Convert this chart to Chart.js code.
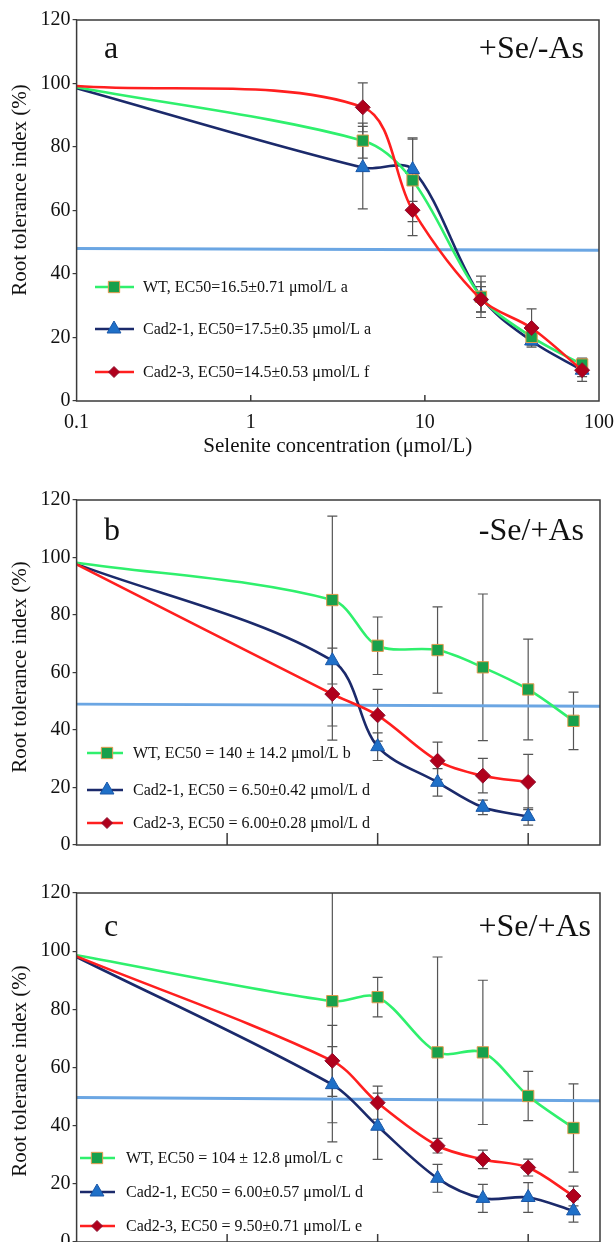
<!DOCTYPE html>
<html>
<head>
<meta charset="utf-8">
<script src="https://cdn.jsdelivr.net/npm/chart.js@4.4.1/dist/chart.umd.min.js"></script>
<style>
  html, body { margin: 0; padding: 0; background: #fff; width: 616px; height: 1242px; overflow: hidden; }
  .panel { position: absolute; left: 0; width: 616px; }
</style>
</head>
<body>
<div class="panel" style="top:0;height:470px"><canvas id="chartA"></canvas></div>
<div class="panel" style="top:470px;height:400px"><canvas id="chartB"></canvas></div>
<div class="panel" style="top:870px;height:386px"><canvas id="chartC"></canvas></div>
<script>
// concentrations (x)
var seConc = [0.1, 4.4, 8.5, 21, 41, 80];
var asConc = [1, 50, 100, 250, 500, 1000, 2000];
var seTicks = [0.1, 1, 10, 100];
var asTicks = [10, 100, 1000];
var yTicks = [0, 20, 40, 60, 80, 100, 120];

// panel a: +Se/-As
var wtA = [98.8, 82, 69.5, 32.8, 20.2, 11.5];
var wtAErr = [0, 5.5, 13, 4.7, 1.5, 2];
var cad1A = [98.5, 73.5, 72.9, 32.8, 18.9, 9.7];
var cad1AErr = [0, 13, 10, 6.5, 1.5, 3.5];
var cad3A = [99.2, 92.5, 60.1, 32, 23, 9.7];
var cad3AErr = [0, 7.7, 8, 4, 6, 2];
var refA = [48, 47.5];

// panel b: -Se/+As
var wtB = [98.2, 85.2, 69.3, 67.8, 61.8, 54.1, 43.2];
var wtBErr = [0, 29.2, 10, 15, 25.5, 17.5, 10];
var cad1B = [97.7, 64.1, 34.2, 21.8, 13.1, 9.9];
var cad1BErr = [0, 22.7, 4.8, 4.8, 2.5, 3];
var cad3B = [97.6, 52.5, 45.1, 29.3, 24.1, 21.9];
var cad3BErr = [0, 16, 9, 6.5, 6, 9.6];
var refB = [49, 48.3];

// panel c: +Se/+As
var wtC = [98.6, 82.8, 84.2, 65.2, 65.2, 50.2, 39.2];
var wtCErr = [0, 48.4, 6.8, 32.8, 24.8, 8.5, 15.2];
var cad1C = [98.0, 54.1, 39.8, 21.9, 15.0, 15.3, 10.7];
var cad1CErr = [0, 13.1, 11.4, 4.8, 4.8, 5.1, 3.9];
var cad3C = [98.2, 62.3, 47.9, 33.1, 28.4, 25.6, 15.8];
var cad3CErr = [0, 12.2, 5.7, 2.5, 3.2, 2.9, 3.4];
var refC = [49.7, 48.6];

var labelsA = ["WT, EC50=16.5\u00b10.71 \u03bcmol/L a", "Cad2-1, EC50=17.5\u00b10.35 \u03bcmol/L a", "Cad2-3, EC50=14.5\u00b10.53 \u03bcmol/L f"];
var labelsB = ["WT, EC50 = 140 \u00b1 14.2 \u03bcmol/L b", "Cad2-1, EC50 = 6.50\u00b10.42 \u03bcmol/L d", "Cad2-3, EC50 = 6.00\u00b10.28 \u03bcmol/L d"];
var labelsC = ["WT, EC50 = 104 \u00b1 12.8 \u03bcmol/L c", "Cad2-1, EC50 = 6.00\u00b10.57 \u03bcmol/L d", "Cad2-3, EC50 = 9.50\u00b10.71 \u03bcmol/L e"];

var FONT = "'Liberation Serif', 'Times New Roman', serif";

function pts(xs, ys) {
  return ys.map(function (v, i) { return { x: xs[i], y: v }; });
}

// marker look for WT / Cad2-1 / Cad2-3
var styles = [
  { line: "#2ff06d", fill: "#18a04b", edge: "#e39a4c", shape: "rect", r: 8, lr: 8 },
  { line: "#1b2a6b", fill: "#1f70c8", edge: "#1a57a8", shape: "triangle", r: 8, lr: 8 },
  { line: "#ff1f1f", fill: "#b0001c", edge: "#8e1030", shape: "rectRot", r: 7.5, lr: 5.5 }
];

function series(xs, ys, s, label, order) {
  return {
    label: label,
    data: pts(xs, ys),
    borderColor: s.line,
    borderWidth: 2.6,
    pointStyle: s.shape,
    pointBackgroundColor: s.fill,
    pointBorderColor: s.edge,
    pointBorderWidth: 1,
    pointRadius: function (c) { return c.dataIndex === 0 ? 0 : s.r; },
    pointHoverRadius: s.r,
    tension: 0.32,
    order: order
  };
}

// error bars, frame, inside ticks, panel letters, legend, y title
var panelPlugin = {
  id: "panel",
  beforeDatasetsDraw: function (chart, args, o) {
    var ctx = chart.ctx, a = chart.chartArea, x = chart.scales.x, y = chart.scales.y;
    ctx.save();
    ctx.beginPath();
    ctx.rect(a.left, a.top, a.right - a.left, a.bottom - a.top);
    ctx.clip();
    ctx.strokeStyle = "#555";
    ctx.lineWidth = 1.2;
    o.errors.forEach(function (errs, di) {
      var d = chart.data.datasets[di].data;
      errs.forEach(function (e, i) {
        if (!e) return;
        var px = x.getPixelForValue(d[i].x);
        var y1 = y.getPixelForValue(d[i].y + e), y2 = y.getPixelForValue(d[i].y - e);
        ctx.beginPath();
        ctx.moveTo(px, y1); ctx.lineTo(px, y2);
        ctx.moveTo(px - 5, y1); ctx.lineTo(px + 5, y1);
        ctx.moveTo(px - 5, y2); ctx.lineTo(px + 5, y2);
        ctx.stroke();
      });
    });
    ctx.restore();
  },
  afterDatasetsDraw: function (chart, args, o) {
    var ctx = chart.ctx, a = chart.chartArea, x = chart.scales.x;
    ctx.save();
    // frame
    ctx.strokeStyle = "#3a3a3a";
    ctx.lineWidth = 1.5;
    ctx.strokeRect(a.left, a.top, a.right - a.left, a.bottom - a.top);
    // inside tick marks on the x axis
    o.insideTicks.forEach(function (v) {
      var px = x.getPixelForValue(v);
      ctx.beginPath();
      ctx.moveTo(px, a.bottom);
      ctx.lineTo(px, a.bottom - o.tickLen);
      ctx.stroke();
    });
    // panel letter and treatment
    ctx.fillStyle = "#111";
    ctx.font = "32px " + FONT;
    ctx.textBaseline = "middle";
    ctx.textAlign = "left";
    ctx.fillText(o.letter, o.letterX, o.letterY);
    ctx.textAlign = "right";
    ctx.fillText(o.tag, o.tagX, o.letterY);
    // y title
    ctx.save();
    ctx.translate(o.yTitleX, o.yTitleY);
    ctx.rotate(-Math.PI / 2);
    ctx.textAlign = "center";
    ctx.font = "21px " + FONT;
    ctx.fillText("Root tolerance index (%)", 0, 0);
    ctx.restore();
    // legend
    ctx.font = "16px " + FONT;
    ctx.textAlign = "left";
    for (var i = 0; i < 3; i++) {
      var s = styles[i], ly = o.legY[i];
      ctx.strokeStyle = s.line;
      ctx.lineWidth = 2.6;
      ctx.beginPath();
      ctx.moveTo(o.legX[0], ly);
      ctx.lineTo(o.legX[2], ly);
      ctx.stroke();
      ctx.fillStyle = s.fill;
      ctx.strokeStyle = s.edge;
      ctx.lineWidth = 1;
      Chart.helpers.drawPoint(ctx, { pointStyle: s.shape, radius: s.lr, rotation: 0, borderWidth: 1 }, o.legX[1], ly);
      ctx.fillStyle = "#111";
      ctx.fillText(chart.data.datasets[i].label, o.legX[3], ly + 1);
    }
    ctx.restore();
  }
};

function makeChart(id, cfg) {
  var xs = cfg.xs;
  var datasets = [
    series(xs, cfg.wt, styles[0], cfg.labels[0], 2),
    series(xs, cfg.cad1, styles[1], cfg.labels[1], 3),
    series(xs, cfg.cad3, styles[2], cfg.labels[2], 1),
    {
      label: "EC50",
      data: [{ x: cfg.xMin, y: cfg.ref[0] }, { x: cfg.xMax, y: cfg.ref[1] }],
      borderColor: "#6ba6e3",
      borderWidth: 3,
      pointRadius: 0,
      order: 10
    }
  ];
  return new Chart(document.getElementById(id), {
    type: "line",
    data: { datasets: datasets },
    plugins: [panelPlugin],
    options: {
      responsive: true,
      maintainAspectRatio: false,
      animation: false,
      layout: { padding: { top: cfg.padTop, right: 16, left: 0, bottom: 0 } },
      plugins: {
        legend: { display: false },
        tooltip: { enabled: false },
        panel: cfg.panel
      },
      scales: {
        x: {
          type: "logarithmic",
          min: cfg.xMin,
          max: cfg.xMax,
          border: { display: false },
          grid: { display: false },
          afterBuildTicks: function (sc) {
            sc.ticks = cfg.xLabels.map(function (v) { return { value: v }; });
          },
          afterFit: function (sc) { sc.height = cfg.xHeight; },
          ticks: {
            display: cfg.showX,
            autoSkip: false,
            maxRotation: 0,
            padding: 2,
            color: "#111",
            font: { family: FONT, size: 20 },
            callback: function (v) { return String(v); }
          },
          title: {
            display: cfg.showX,
            text: "Selenite concentration (\u03bcmol/L)",
            color: "#111",
            font: { family: FONT, size: 21 },
            padding: { top: 2, bottom: 11 }
          }
        },
        y: {
          min: 0,
          max: 120,
          border: { display: false },
          grid: { drawOnChartArea: false, tickLength: 4, color: "#3a3a3a", lineWidth: 1.2 },
          afterBuildTicks: function (sc) {
            sc.ticks = yTicks.map(function (v) { return { value: v }; });
          },
          afterFit: function (sc) { sc.width = 76.6; },
          ticks: {
            padding: 2,
            color: "#111",
            font: { family: FONT, size: 20 }
          }
        }
      }
    }
  });
}

makeChart("chartA", {
  xs: seConc, wt: wtA, cad1: cad1A, cad3: cad3A, ref: refA, labels: labelsA,
  xMin: 0.1, xMax: 100, xLabels: seTicks, showX: true, xHeight: 69, padTop: 20,
  panel: {
    errors: [wtAErr, cad1AErr, cad3AErr],
    insideTicks: [1, 10], tickLen: 6,
    letter: "a", tag: "+Se/-As", letterX: 104, tagX: 584, letterY: 50,
    yTitleX: 20, yTitleY: 190,
    legX: [95, 114, 134, 143], legY: [287, 329, 372]
  }
});

makeChart("chartB", {
  xs: asConc, wt: wtB, cad1: cad1B, cad3: cad3B, ref: refB, labels: labelsB,
  xMin: 1, xMax: 3000, xLabels: asTicks, showX: false, xHeight: 25, padTop: 30,
  panel: {
    errors: [wtBErr, cad1BErr, cad3BErr],
    insideTicks: asTicks, tickLen: 12,
    letter: "b", tag: "-Se/+As", letterX: 104, tagX: 584, letterY: 62,
    yTitleX: 20, yTitleY: 197,
    legX: [87, 107, 123, 133], legY: [283, 320, 353]
  }
});

makeChart("chartC", {
  xs: asConc, wt: wtC, cad1: cad1C, cad3: cad3C, ref: refC, labels: labelsC,
  xMin: 1, xMax: 3000, xLabels: asTicks, showX: false, xHeight: 12, padTop: 23,
  panel: {
    errors: [wtCErr, cad1CErr, cad3CErr],
    insideTicks: asTicks, tickLen: 8,
    letter: "c", tag: "+Se/+As", letterX: 104, tagX: 591, letterY: 58,
    yTitleX: 20, yTitleY: 201,
    legX: [80, 97, 115, 126], legY: [288, 322, 356]
  }
});
</script>
</body>
</html>
